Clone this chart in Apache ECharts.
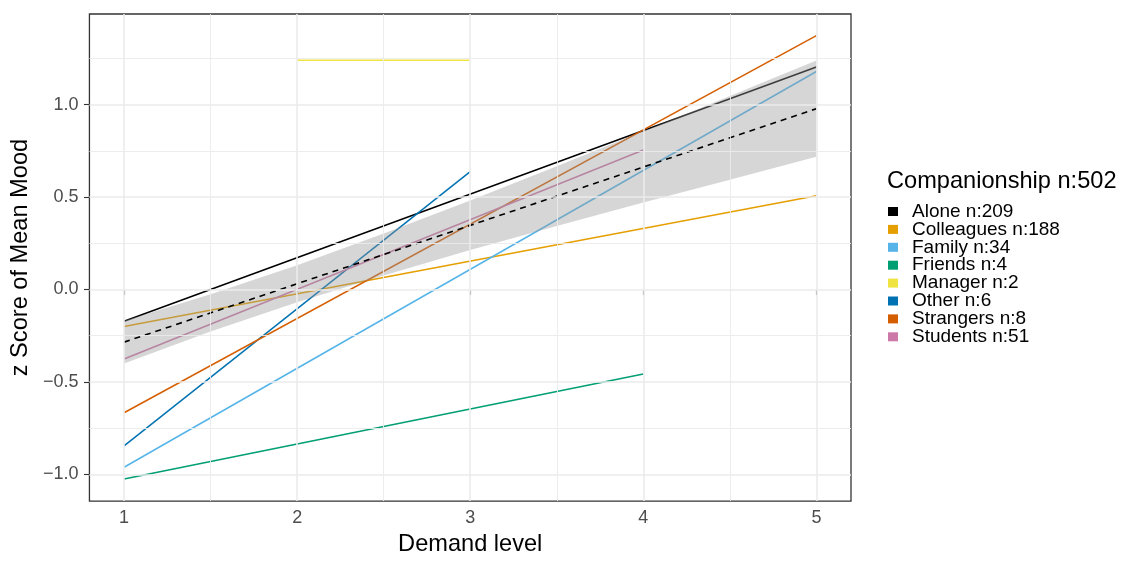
<!DOCTYPE html>
<html><head><meta charset="utf-8">
<script src="https://cdn.jsdelivr.net/npm/echarts@6/dist/echarts.min.js"></script>
<style>html,body{margin:0;padding:0;background:#fff}#c{width:1125px;height:561px}</style>
</head><body><div id="c"></div>
<script>
// ---- data ----
const groupNames = ['Alone n:209','Colleagues n:188','Family n:34','Friends n:4','Manager n:2','Other n:6','Strangers n:8','Students n:51'];
const groupColors = ['#000000','#E69F00','#56B4E9','#009E73','#F0E442','#0072B2','#D55E00','#CC79A7'];
const aloneX = [1,5],       aloneY = [-0.172, 1.203];
const colleaguesX = [1,5],  colleaguesY = [-0.200, 0.507];
const familyX = [1,5],      familyY = [-0.962, 1.179];
const friendsX = [1,4],     friendsY = [-1.025, -0.458];
const managerX = [2,3],     managerY = [1.240, 1.240];
const otherX = [1,3],       otherY = [-0.846, 0.637];
const strangersX = [1,5],   strangersY = [-0.667, 1.373];
const studentsX = [1,4],    studentsY = [-0.376, 0.754];
const overallX = [1,5],     overallY = [-0.285, 0.978];
const ribbonX = [1, 1.5, 2, 2.5, 3, 3.5, 4, 4.5, 5];
const ribbonLower = [-0.400, -0.228, -0.069, 0.076, 0.213, 0.343, 0.470, 0.594, 0.718];
const ribbonUpper = [-0.170, -0.026, 0.131, 0.302, 0.481, 0.667, 0.856, 1.046, 1.238];
const xTicks = [1,2,3,4,5];
const xTickLabels = ['1','2','3','4','5'];
const xMinorGrid = [1.5,2.5,3.5,4.5];
const yTicks = [-1,-0.5,0,0.5,1];
const yTickLabels = ['\u22121.0','\u22120.5','0.0','0.5','1.0'];
const yMinorGrid = [-0.75,-0.25,0.25,0.75,1.25];
const legendTitle = 'Companionship n:502';
const xTitle = 'Demand level';
const yTitle = 'z Score of Mean Mood';

const groupXs = [aloneX, colleaguesX, familyX, friendsX, managerX, otherX, strangersX, studentsX];
const groupYs = [aloneY, colleaguesY, familyY, friendsY, managerY, otherY, strangersY, studentsY];
const zip = (xs, ys) => xs.map((x, i) => [x, ys[i]]);

const FONT = '"Liberation Sans", Arial, sans-serif';
const chart = echarts.init(document.getElementById('c'), null, {renderer: 'canvas'});

const gridMarks = [];
xTicks.forEach(v => gridMarks.push({xAxis: v, lineStyle: {color: '#EBEBEB', width: 1.6, type: 'solid'}}));
xMinorGrid.forEach(v => gridMarks.push({xAxis: v, lineStyle: {color: '#EBEBEB', width: 0.9, type: 'solid'}}));
yTicks.forEach(v => gridMarks.push({yAxis: v, lineStyle: {color: '#EBEBEB', width: 1.6, type: 'solid'}}));
yMinorGrid.forEach(v => gridMarks.push({yAxis: v, lineStyle: {color: '#EBEBEB', width: 0.9, type: 'solid'}}));

const series = [{
  type: 'line', name: '_grid', data: [], z: 0, silent: true,
  markLine: {silent: true, symbol: ['none','none'], label: {show: false}, animation: false, data: gridMarks}
}];
groupNames.forEach((n, i) => {
  series.push({
    type: 'line', name: n, data: zip(groupXs[i], groupYs[i]), showSymbol: false, symbol: 'none',
    z: 2, color: groupColors[i], itemStyle: {color: groupColors[i]},
    lineStyle: {color: groupColors[i], width: 1.5}
  });
});
series.push({
  type: 'custom', name: '_ribbon', z: 3, silent: true,
  data: [[ribbonX[0], ribbonLower[0]]],
  renderItem: function (params, api) {
    const pts = [];
    for (let i = 0; i < ribbonX.length; i++) pts.push(api.coord([ribbonX[i], ribbonUpper[i]]));
    for (let i = ribbonX.length - 1; i >= 0; i--) pts.push(api.coord([ribbonX[i], ribbonLower[i]]));
    return {type: 'polygon', shape: {points: pts}, style: {fill: '#999999', opacity: 0.4}};
  }
});
series.push({
  type: 'line', name: '_overall', data: zip(overallX, overallY), showSymbol: false, symbol: 'none', z: 4,
  lineStyle: {color: '#000', width: 1.6, type: [6,5]}
});

chart.setOption({
  animation: false,
  backgroundColor: '#fff',
  grid: {left: 89, right: 274, top: 14, bottom: 57, show: true, borderColor: '#333333', borderWidth: 1.3, backgroundColor: 'transparent', containLabel: false},
  title: {text: legendTitle, left: 887, top: 169, padding: 0, textStyle: {fontFamily: FONT, fontSize: 23.6, fontWeight: 'normal', color: '#000'}},
  legend: {
    orient: 'vertical', left: 888, top: 202, padding: 0, itemWidth: 10, itemHeight: 9, itemGap: -1.1, icon: 'rect',
    data: groupNames,
    textStyle: {fontFamily: FONT, fontSize: 19, color: '#000', lineHeight: 17.9, padding: [0,0,0,9]}
  },
  xAxis: {
    type: 'value', min: 0.8, max: 5.2,
    name: xTitle, nameLocation: 'middle', nameGap: 29,
    nameTextStyle: {fontFamily: FONT, fontSize: 23.6, color: '#000'},
    axisLine: {show: false},
    axisTick: {show: true, customValues: xTicks, length: 5.5, lineStyle: {color: '#333', width: 1.1}},
    axisLabel: {show: true, customValues: xTicks, margin: 8, fontFamily: FONT, fontSize: 18, color: '#4D4D4D',
      formatter: v => xTickLabels[xTicks.indexOf(v)] ?? ''},
    splitLine: {show: false}
  },
  yAxis: {
    type: 'value', min: -1.145, max: 1.49,
    name: yTitle, nameLocation: 'middle', nameGap: 54, nameRotate: 90,
    nameTextStyle: {fontFamily: FONT, fontSize: 23.6, color: '#000'},
    axisLine: {show: false},
    axisTick: {show: true, customValues: yTicks, length: 5.5, lineStyle: {color: '#333', width: 1.1}},
    axisLabel: {show: true, customValues: yTicks, margin: 11, fontFamily: FONT, fontSize: 18, color: '#4D4D4D',
      formatter: v => { const k = yTicks.findIndex(t => Math.abs(t - v) < 1e-9); return k >= 0 ? yTickLabels[k] : ''; }},
    splitLine: {show: false}
  },
  series: series
});
</script></body></html>
